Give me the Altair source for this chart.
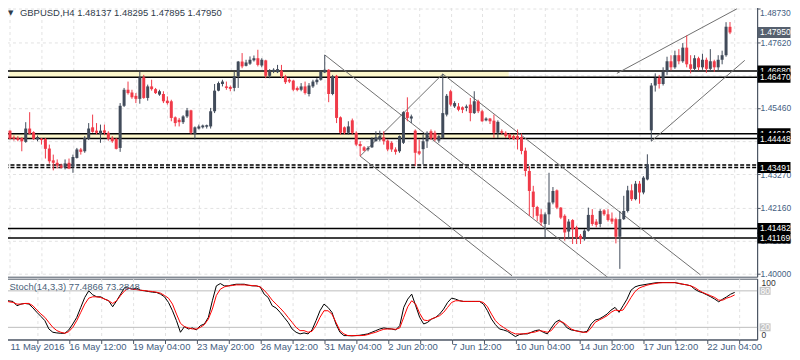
import altair as alt
import pandas as pd

# ---------------- data ----------------
opens = [1.4471,1.4449,1.4447,1.4447,1.4434,1.4478,1.4466,1.4442,1.4445,1.4444,
1.4412,1.4373,1.4365,1.4356,1.4349,1.4365,1.4352,1.4381,1.4409,1.4403,
1.4444,1.4482,1.4471,1.4460,1.4472,1.4464,1.4447,1.4444,1.4414,1.4553,
1.4606,1.4597,1.4586,1.4576,1.4647,1.4579,1.4617,1.4608,1.4590,1.4592,
1.4570,1.4568,1.4515,1.4507,1.4499,1.4518,1.4538,1.4460,1.4478,1.4482,
1.4484,1.4485,1.4535,1.4603,1.4625,1.4617,1.4615,1.4612,1.4650,1.4699,
1.4685,1.4692,1.4703,1.4710,1.4686,1.4703,1.4652,1.4666,1.4664,1.4669,
1.4650,1.4639,1.4636,1.4612,1.4606,1.4617,1.4592,1.4617,1.4631,1.4639,
1.4663,1.4672,1.4592,1.4652,1.4515,1.4482,1.4464,1.4505,1.4464,1.4427,
1.4416,1.4409,1.4416,1.4436,1.4442,1.4449,1.4438,1.4431,1.4409,1.4403,
1.4431,1.4532,1.4511,1.4471,1.4403,1.4410,1.4436,1.4469,1.4464,1.4438,
1.4447,1.4524,1.4601,1.4551,1.4551,1.4548,1.4546,1.4557,1.4529,1.4568,
1.4535,1.4505,1.4511,1.4504,1.4464,1.4469,1.4464,1.4458,1.4453,1.4453,
1.4450,1.4405,1.4338,1.4270,1.4219,1.4195,1.4163,1.4195,1.4234,1.4274,
1.4217,1.4190,1.4138,1.4176,1.4152,1.4124,1.4113,1.4141,1.4193,1.4171,
1.4163,1.4208,1.4195,1.4181,1.4179,1.4121,1.4179,1.4206,1.4274,1.4245,
1.4296,1.4267,1.4310,1.4472,1.4620,1.4645,1.4625,1.4665,1.4700,1.4680,
1.4720,1.4700,1.4745,1.4690,1.4675,1.4710,1.4680,1.4705,1.4675,1.4700,
1.4680,1.4705,1.4720,1.48137]
highs = [1.4472,1.4455,1.4453,1.4449,1.4499,1.4532,1.4469,1.4455,1.4447,1.4447,
1.4425,1.4392,1.4376,1.4362,1.4376,1.4379,1.4392,1.4414,1.4414,1.4453,
1.4496,1.4524,1.4496,1.4491,1.4491,1.4469,1.4453,1.4447,1.4562,1.4612,
1.4633,1.4606,1.4595,1.4666,1.4655,1.4623,1.4639,1.4612,1.4606,1.4601,
1.4584,1.4573,1.4518,1.4513,1.4522,1.4546,1.4540,1.4485,1.4491,1.4491,
1.4491,1.4546,1.4625,1.4633,1.4639,1.4633,1.4620,1.4666,1.4701,1.4727,
1.4705,1.4716,1.4719,1.4738,1.4710,1.4705,1.4674,1.4677,1.4688,1.4688,
1.4655,1.4644,1.4639,1.4617,1.4628,1.4633,1.4628,1.4639,1.4644,1.4669,
1.4721,1.4674,1.4655,1.4655,1.4518,1.4485,1.4502,1.4511,1.4469,1.4436,
1.4420,1.4420,1.4449,1.4469,1.4471,1.4469,1.4442,1.4436,1.4416,1.4455,
1.4535,1.4581,1.4524,1.4475,1.4442,1.4458,1.4469,1.4475,1.4471,1.4458,
1.4658,1.4592,1.4606,1.4568,1.4562,1.4551,1.4557,1.4579,1.4601,1.4573,
1.4540,1.4515,1.4513,1.4524,1.4505,1.4475,1.4469,1.4462,1.4458,1.4475,
1.4462,1.4415,1.4354,1.4289,1.4223,1.4212,1.4201,1.4332,1.4285,1.4277,
1.4219,1.4195,1.4179,1.4179,1.4157,1.4130,1.4146,1.4217,1.4212,1.4179,
1.4212,1.4212,1.4212,1.4201,1.4184,1.4206,1.4256,1.4289,1.4294,1.4305,
1.4305,1.4321,1.4393,1.4628,1.4660,1.4655,1.4680,1.4715,1.4720,1.4735,
1.4740,1.4760,1.4785,1.4720,1.4720,1.4715,1.4725,1.4712,1.4740,1.4705,
1.4720,1.4735,1.4829,1.48295]
lows = [1.4442,1.4438,1.4436,1.4403,1.4431,1.4458,1.4440,1.4436,1.4425,1.4379,
1.4362,1.4340,1.4346,1.4346,1.4343,1.4344,1.4332,1.4379,1.4392,1.4398,
1.4440,1.4464,1.4458,1.4431,1.4456,1.4438,1.4431,1.4409,1.4401,1.4549,
1.4590,1.4576,1.4562,1.4560,1.4576,1.4570,1.4603,1.4592,1.4586,1.4562,
1.4557,1.4502,1.4485,1.4485,1.4493,1.4513,1.4458,1.4442,1.4475,1.4478,
1.4478,1.4478,1.4529,1.4601,1.4617,1.4606,1.4601,1.4601,1.4612,1.4677,
1.4683,1.4688,1.4699,1.4683,1.4680,1.4644,1.4644,1.4661,1.4661,1.4644,
1.4625,1.4628,1.4601,1.4601,1.4601,1.4590,1.4584,1.4612,1.4623,1.4636,
1.4661,1.4565,1.4588,1.4496,1.4458,1.4458,1.4458,1.4458,1.4420,1.4387,
1.4403,1.4403,1.4414,1.4436,1.4436,1.4425,1.4403,1.4401,1.4392,1.4398,
1.4427,1.4502,1.4496,1.4354,1.4390,1.4360,1.4414,1.4440,1.4436,1.4431,
1.4445,1.4518,1.4551,1.4546,1.4535,1.4529,1.4535,1.4502,1.4526,1.4529,
1.4500,1.4502,1.4493,1.4447,1.4447,1.4458,1.4447,1.4442,1.4440,1.4409,
1.4393,1.4320,1.4190,1.4184,1.4173,1.4157,1.4119,1.4160,1.4228,1.4212,
1.4179,1.4108,1.4113,1.4097,1.4097,1.4097,1.4108,1.4138,1.4157,1.4152,
1.4152,1.4190,1.4171,1.4163,1.4099,1.4015,1.4176,1.4201,1.4239,1.4241,
1.4230,1.4261,1.4307,1.4436,1.4600,1.4610,1.4620,1.4655,1.4670,1.4675,
1.4690,1.4695,1.4680,1.4660,1.4665,1.4670,1.4672,1.4662,1.4668,1.4665,
1.4670,1.4690,1.4715,1.47895]
closes = [1.4444,1.4444,1.4440,1.4436,1.4478,1.4461,1.4444,1.4450,1.4440,1.4411,
1.4370,1.4365,1.4356,1.4349,1.4363,1.4346,1.4384,1.4409,1.4401,1.4447,
1.4478,1.4467,1.4464,1.4471,1.4464,1.4444,1.4436,1.4411,1.4553,1.4606,
1.4595,1.4581,1.4576,1.4647,1.4579,1.4617,1.4608,1.4595,1.4601,1.4568,
1.4562,1.4513,1.4496,1.4499,1.4518,1.4538,1.4464,1.4482,1.4485,1.4488,
1.4489,1.4535,1.4603,1.4628,1.4633,1.4612,1.4609,1.4650,1.4699,1.4683,
1.4696,1.4705,1.4710,1.4688,1.4705,1.4652,1.4669,1.4672,1.4674,1.4650,
1.4631,1.4633,1.4606,1.4605,1.4617,1.4595,1.4620,1.4633,1.4639,1.4666,
1.4672,1.4592,1.4650,1.4513,1.4464,1.4464,1.4485,1.4464,1.4425,1.4420,
1.4405,1.4414,1.4444,1.4449,1.4453,1.4436,1.4409,1.4409,1.4401,1.4453,
1.4532,1.4513,1.4518,1.4398,1.4395,1.4436,1.4464,1.4446,1.4442,1.4453,
1.4529,1.4586,1.4557,1.4562,1.4540,1.4540,1.4551,1.4529,1.4568,1.4535,
1.4502,1.4511,1.4502,1.4464,1.4500,1.4464,1.4453,1.4447,1.4444,1.4442,
1.4404,1.4338,1.4272,1.4219,1.4190,1.4168,1.4195,1.4234,1.4272,1.4217,
1.4184,1.4135,1.4171,1.4146,1.4119,1.4113,1.4141,1.4193,1.4163,1.4160,
1.4206,1.4195,1.4176,1.4171,1.4121,1.4179,1.4206,1.4274,1.4245,1.4296,
1.4267,1.4316,1.4360,1.4620,1.4645,1.4625,1.4665,1.4700,1.4680,1.4720,
1.4700,1.4745,1.4690,1.4675,1.4710,1.4680,1.4705,1.4675,1.4700,1.4680,
1.4705,1.4720,1.4814,1.47950]

stoch_k = [64.7,63.5,62.6,55.5,58.2,59.3,58.2,52,44.6,38,
31,17.3,11.9,10.8,10.2,10.2,15.7,25.5,36.4,52.8,
69.1,80,73.5,70.2,70.2,66.4,63.7,53.8,63.7,74.6,
85.4,84.4,82.7,84.4,81,80,78.9,77.8,77.3,74.6,
70.2,60.9,47.3,31,11.9,21.1,17.3,19,15.7,22.8,
25.5,36.4,63.7,88.2,92,88.2,88.2,89.8,90.9,90.9,
90.9,89.3,88.2,88.2,86.5,74.6,69.1,55.5,51.7,44.6,
36.4,28.2,17.3,11.9,9.2,10.8,9.2,15.7,31,47.3,
58.2,52.8,44.6,25.5,11.9,6.4,6.4,6,6.4,7,
8.1,9.2,11.9,14.6,17.3,19,17.9,17.3,15.7,22.8,
52.8,66.4,74.6,55.5,36.4,25.5,28.2,33.7,36.4,41.8,
50,60.9,68,66.4,63.7,62.6,62.6,62.6,62.6,62.6,
58.2,47.3,33.7,24.4,17.3,15.7,13.5,9.2,4.8,8.1,
9.2,9.2,11.9,14.6,15.7,11.9,9.2,19,28.2,32,
26.6,19,15.7,14.6,13.5,11.9,13.5,25.5,32,33.7,
37.5,41.8,48.4,52.8,44.6,55.5,66.4,81,86.5,88.7,
89.8,90.9,92,93.1,93.6,93.6,93.6,93.6,93.6,92,
90.9,89.8,88.2,82.7,78.9,76.7,73.5,70.2,66.4,62,
66.4,70.2,74.6,77.4866]
stoch_d = [63.7,62,61,58.2,58.2,59.3,59.3,55.5,48.4,42,
36.4,28,20,14.6,11.9,10.2,12.9,20,31,44.6,
58.2,68,70.2,70.2,69.1,66.4,63.7,59.3,63.7,72.4,
80,84.4,82.7,82,81,80.5,79.5,78.9,77.8,76.2,
72.4,68,58.2,41.8,26.6,21.1,19,17.3,17.3,20,
24.4,33.7,50,72.4,82.7,86.5,88.2,88.7,89.8,89.8,
89.8,89.3,88.7,88.2,86.5,81,73.5,64.7,58.2,51.7,
44.6,36.4,28.2,20,14.6,14.6,11.9,13.5,22.8,36.4,
47.3,47.3,41.8,28.2,14.6,9.2,6.4,6.4,6.4,6.4,
6.6,8.1,10.2,11.9,14.6,16.8,17.3,17.3,16.8,19,
36.4,53.8,63.7,58.2,43,32,31,33.7,36.4,39.1,
44.6,52.8,60.9,63.7,63.7,62.6,62.6,62.6,62.6,62.6,
60.9,53.8,41.8,31,24.4,20,15.7,11.9,9.2,9.2,
9.2,10.2,11.3,12.4,14.6,13.5,11.9,14.6,22.8,29.9,
28.2,22.8,17.3,14.6,12.9,11.9,11.9,19,28.2,32,
35.3,39.1,44.6,48.4,47.3,48.4,58.2,69.1,78.9,84.4,
87.1,89.3,90.9,92,93,93.4,93.4,93.4,93.4,92.5,
90.9,89.8,88.2,85.4,81,77.3,74.6,71.9,69.1,64.7,
64.7,68,70.2,73.2848]

time_labels = ["11 May 2016", "16 May 12:00", "19 May 04:00", "23 May 20:00",
               "26 May 12:00", "31 May 04:00", "2 Jun 20:00", "7 Jun 12:00",
               "10 Jun 04:00", "14 Jun 20:00", "17 Jun 12:00", "22 Jun 04:00"]
price_ticks = [1.48730, 1.47620, 1.46540, 1.45460, 1.44350, 1.43270, 1.42160, 1.41080, 1.40000]
hidden_ticks = [1.46540, 1.44350]   # fully covered by the level boxes in the reference

solid_levels = [1.46680, 1.46470, 1.44610, 1.44448, 1.41482, 1.41169]
dashed_levels = [1.43580, 1.43491]
band_low = [1.46470, 1.44448]
band_high = [1.46680, 1.44610]
band_end = [126.75, 129.0]

# trend lines: (bar1, price1, bar2, price2)
trend_b1 = [80, 110, 89, 89, 154.25, 163]
trend_p1 = [1.4721, 1.4658, 1.4387, 1.4387, 1.4660, 1.4436]
trend_b2 = [152, 175.5, 127.6, 110, 184.75, 186.75]
trend_p2 = [1.3986, 1.3995, 1.3992, 1.4658, 1.4873, 1.4703]

label_prices = [1.47950, 1.46680, 1.46470, 1.44610, 1.44448, 1.43491, 1.41482, 1.41169]
label_bg = ["#56606e", "#000000", "#000000", "#000000", "#000000", "#000000", "#000000", "#000000"]

title_text = "GBPUSD,H4  1.48137 1.48295 1.47895 1.47950"
stoch_text = "Stoch(14,3,3) 77.4866 73.2848"

# ---------------- chart ----------------
BULL = "#414b5a"
BEAR = "#f03a48"
AXIS_COL = "#44607f"
FONT = "Liberation Sans"
LBL_SIZE = 8.5
W = 755
H_MAIN = 276
H_STOCH = 61
X_DOMAIN = [-0.125, 188.625]
Y_DOMAIN = [1.39891, 1.48970]
PX_PER_PRICE = H_MAIN / (Y_DOMAIN[1] - Y_DOMAIN[0])
BOX_HALF = 5.5 / PX_PER_PRICE          # half height of a price label box
ST_BOX_HALF = 4.0 * 100 / H_STOCH      # half height of a stoch label box
TOP_TICK = price_ticks[0]

n = len(opens)
candles = pd.DataFrame({"i": list(range(n)), "open": opens, "high": highs,
                        "low": lows, "close": closes})
candles["dir"] = ["up" if c >= o else "down" for o, c in zip(opens, closes)]

xs = alt.Scale(domain=X_DOMAIN, nice=False, zero=False)
ys = alt.Scale(domain=Y_DOMAIN, nice=False, zero=False)
ss = alt.Scale(domain=[0, 100], nice=False, zero=False)

hide_cond = " || ".join(f"abs(datum.value - {h}) < 0.00001" for h in hidden_ticks)
grid_vals = list(range(0, 189, 8))
x_axis_main = alt.Axis(values=grid_vals, grid=True, gridColor="#e2e2e2", gridDash=[3, 3],
                       labels=False, ticks=False, domain=False, title=None)
y_axis_main = alt.Axis(orient="right", values=price_ticks, grid=True,
                       labelExpr=(f"datum.value > {TOP_TICK - 0.0001} || {hide_cond}"
                                  " ? '' : format(datum.value, '.5f')"),
                       gridColor="#e2e2e2", gridDash=[3, 3], tickSize=3, tickColor="#4b5563",
                       labelColor=AXIS_COL, labelFont=FONT, labelFontSize=LBL_SIZE,
                       labelPadding=0, domainColor="#4b5563", title=None, labelOverlap=False)

def X(field, axis=x_axis_main):
    return alt.X(field, type="quantitative", scale=xs, axis=axis)

def Y(field):
    return alt.Y(field, type="quantitative", scale=ys, axis=y_axis_main)

color_enc = alt.Color("dir:N", scale=alt.Scale(domain=["up", "down"], range=[BULL, BEAR]),
                      legend=None)

bands = pd.DataFrame({"x0": [X_DOMAIN[0]] * len(band_low), "x1": band_end,
                      "lo": band_low, "hi": band_high})
band_layer = alt.Chart(bands).mark_rect(color="#fcf7cc").encode(
    x=X("x0"), x2="x1", y=Y("lo"), y2="hi")

lvl_layer = alt.Chart(pd.DataFrame({"p": solid_levels})).mark_rule(
    color="#000000", strokeWidth=1.5).encode(y=Y("p"), x=alt.value(0), x2=alt.value(W))
dash_layer = alt.Chart(pd.DataFrame({"p": dashed_levels})).mark_rule(
    color="#000000", strokeWidth=1.5, strokeDash=[4, 2]).encode(
    y=Y("p"), x=alt.value(0), x2=alt.value(W))

trends = pd.DataFrame({"b1": trend_b1, "p1": trend_p1, "b2": trend_b2, "p2": trend_p2})
trend_layer = alt.Chart(trends).mark_rule(color="#6f6f6f", strokeWidth=1, clip=True).encode(
    x=X("b1"), y=Y("p1"), x2="b2", y2="p2")

wick_layer = alt.Chart(candles).mark_rule(strokeWidth=1).encode(
    x=X("i"), y=Y("low"), y2="high", color=color_enc)
body_layer = alt.Chart(candles).mark_bar(size=3).encode(
    x=X("i"), y=Y("open"), y2="close", color=color_enc)

# top tick label, nudged down so it stays inside the page
top_lab = alt.Chart(pd.DataFrame({"p": [TOP_TICK], "t": [f"{TOP_TICK:.5f}"]})).mark_text(
    align="left", baseline="middle", dy=4, color=AXIS_COL, font=FONT, fontSize=LBL_SIZE,
    clip=False).encode(y=Y("p"), x=alt.value(W + 3), text="t:N")

label_layers = []
for p, bg in zip(label_prices, label_bg):
    d = pd.DataFrame({"p": [p], "lo": [p - BOX_HALF], "hi": [p + BOX_HALF], "t": [f"{p:.5f}"]})
    label_layers.append(alt.Chart(d).mark_rect(color=bg, clip=False).encode(
        y=Y("lo"), y2="hi", x=alt.value(W + 0.5), x2=alt.value(W + 33.5)))
    label_layers.append(alt.Chart(d).mark_text(
        align="left", baseline="middle", color="#ffffff", font=FONT, fontSize=LBL_SIZE,
        clip=False).encode(y=Y("p"), x=alt.value(W + 3), text="t:N"))

tri_layer = alt.Chart(pd.DataFrame({"t": ["\u25bc"]})).mark_text(
    align="left", baseline="middle", font="DejaVu Sans", fontSize=7, color="#2f3b4a").encode(
    x=alt.value(3.5), y=alt.value(11), text="t:N")
title_layer = alt.Chart(pd.DataFrame({"t": [title_text]})).mark_text(
    align="left", baseline="middle", font=FONT, fontSize=9.5, color="#2f3b4a").encode(
    x=alt.value(15.5), y=alt.value(11), text="t:N")

main = alt.layer(band_layer, lvl_layer, dash_layer, trend_layer, wick_layer, body_layer,
                 top_lab, *label_layers, tri_layer, title_layer).properties(
    width=W, height=H_MAIN)

# stochastic panel
lab_js = "[" + ",".join("'" + t + "'" for t in time_labels) + "]"
x_axis_st = alt.Axis(values=grid_vals, grid=True, gridColor="#e2e2e2", gridDash=[3, 3],
                     labelExpr=f"datum.value % 16 === 0 && datum.value > 0 ? {lab_js}[datum.value / 16] : ''",
                     labelAlign="left", labelPadding=-1.5, tickSize=4, tickColor="#4b5563",
                     labelColor=AXIS_COL, labelFont=FONT, labelFontSize=9.5,
                     domainColor="#4b5563", title=None, labelOverlap=False)
y_axis_st = alt.Axis(orient="right", values=[0, 100], labelFlush=True, grid=False,
                     tickSize=0, labelPadding=4, labelColor="#333333", labelFont=FONT,
                     labelFontSize=LBL_SIZE, domainColor="#4b5563", title=None)

st = pd.DataFrame({"i": list(range(n)), "k": stoch_k, "d": stoch_d})

def SX(field):
    return alt.X(field, type="quantitative", scale=xs, axis=x_axis_st)

def SY(field):
    return alt.Y(field, type="quantitative", scale=ss, axis=y_axis_st)

lvl_st = alt.Chart(pd.DataFrame({"v": [80, 20]})).mark_rule(color="#bdbdbd", strokeWidth=1).encode(
    y=SY("v"), x=alt.value(0), x2=alt.value(W))
k_line = alt.Chart(st).mark_line(color="#000000", strokeWidth=1).encode(x=SX("i"), y=SY("k"))
d_line = alt.Chart(st).mark_line(color="#ff0000", strokeWidth=1).encode(x=SX("i"), y=SY("d"))
st_lab = pd.DataFrame({"v": [80, 20], "t": ["80", "20"]})
st_lab["lo"] = st_lab["v"] - ST_BOX_HALF
st_lab["hi"] = st_lab["v"] + ST_BOX_HALF
st_box = alt.Chart(st_lab)
st_box_r = st_box.mark_rect(color="#c4c4c4", clip=False).encode(
    y=SY("lo"), y2="hi", x=alt.value(W + 2.5), x2=alt.value(W + 13.5))
st_box_t = st_box.mark_text(align="left", baseline="middle", color="#ffffff", font=FONT,
                            fontSize=LBL_SIZE, clip=False).encode(
    y=SY("v"), x=alt.value(W + 3.5), text="t:N")
st_title = alt.Chart(pd.DataFrame({"t": [stoch_text]})).mark_text(
    align="left", baseline="middle", font=FONT, fontSize=9.5, color="#4a5f7a").encode(
    x=alt.value(5), y=alt.value(8), text="t:N")
# first date label, kept inside the page's left edge
first_lab = alt.Chart(pd.DataFrame({"t": [time_labels[0]]})).mark_text(
    align="left", baseline="top", font=FONT, fontSize=9.5, color=AXIS_COL, clip=False).encode(
    x=alt.value(6), y=alt.value(H_STOCH + 2.5), text="t:N")

stoch = alt.layer(lvl_st, k_line, d_line, st_box_r, st_box_t, st_title, first_lab).properties(
    width=W, height=H_STOCH)

chart = alt.vconcat(main, stoch, spacing=2, bounds="flush").properties(
    padding={"left": -5.5, "top": -8, "right": 0, "bottom": -0.5},
    background="#ffffff",
).configure_view(stroke="#4b5563", strokeWidth=1)

chart.save("out.html", embed_options={"renderer": "svg", "actions": False})
